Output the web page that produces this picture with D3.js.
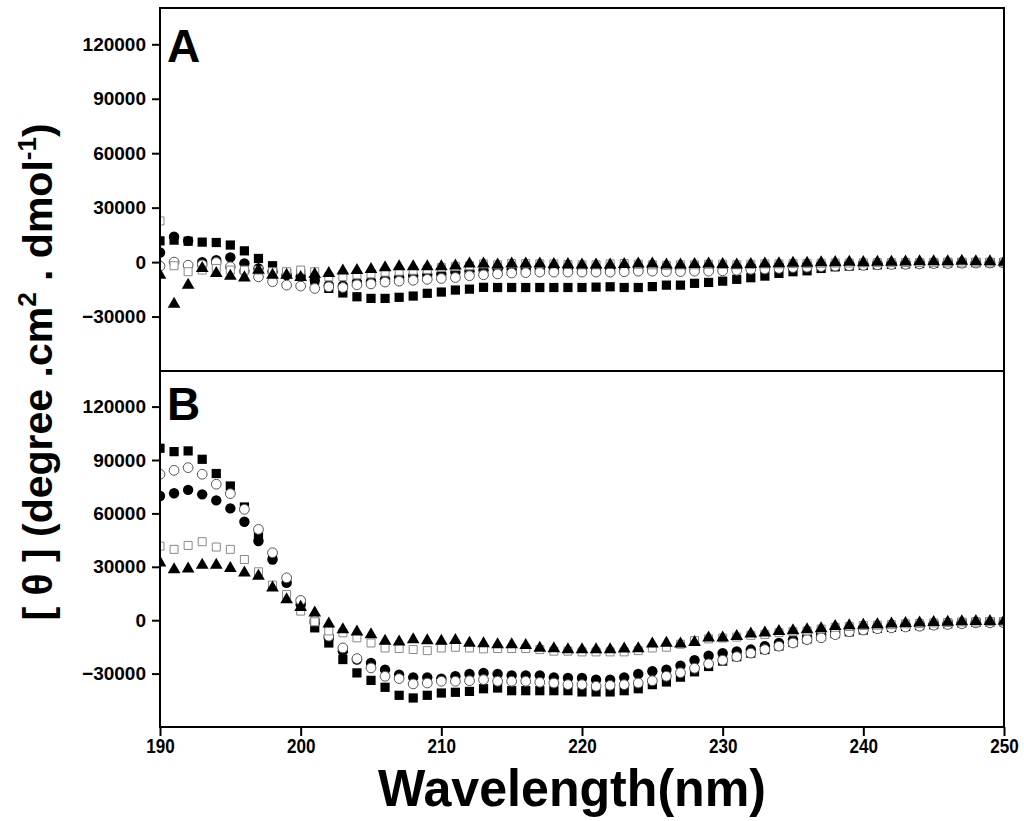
<!DOCTYPE html>
<html>
<head>
<meta charset="utf-8">
<script src="https://cdn.jsdelivr.net/npm/d3@7/dist/d3.min.js"></script>
<style>
	body { margin: 0; background: #fff; }
	text { font-family: "Liberation Sans", Arial, sans-serif; font-weight: bold; fill: #000; }
</style>
</head>
<body>
<svg id="chart" width="1024" height="821"></svg>
<script>
// wavelength 190..250 nm, one point per nm
var wavelengths = d3.range(190, 251);
var yTicks = [-30000, 0, 30000, 60000, 90000, 120000];
var xTicks = [190, 200, 210, 220, 230, 240, 250];

// panel A
var aSquareFilled = [11700, 12100, 11500, 11000, 10800, 9400, 6200, 2000, -2000, -6200, -6600, -9900, -14500, -17000,
	-19100, -20000, -20000, -19400, -18700, -17200, -16500, -15400, -14900, -13900, -14000, -14000, -14000, -14000, -14000, -14000, -14000, -13800, -13600, -14000, -14000, -13500,
	-12700, -12700, -11700, -11200, -10500, -9500, -8600, -7700, -6200, -5300, -4800, -3500, -2600, -2200, -1800, -1500, -1200, -1000, -800, -600, -500, -400, -300, -300, -300];
var aCircleFilled = [5300, 14000, 11700, 0, 1100, 2600, -700, -3500, -5300, -7200, -8100, -9900, -12700, -13000,
	-11000, -10500, -9500, -8500, -7500, -7000, -6500, -5500, -5000, -4500, -4000, -4000, -3800, -3500, -3500, -3500, -3500, -3500, -3500, -3300, -3200, -3200,
	-3500, -3500, -3300, -3000, -3000, -2800, -2500, -2300, -2000, -1800, -1500, -1300, -1200, -1000, -900, -800, -700, -600, -500, -400, -300, -300, -200, -200, -200];
var aCircleOpen = [-2200, 0, -1700, -1500, -200, -2600, -5000, -8100, -10800, -12700, -13200, -14500, -13600, -14000,
	-12500, -12000, -11000, -10500, -10000, -9500, -9000, -8500, -7500, -7000, -6500, -6000, -5800, -5500, -5500, -5500, -5500, -5500, -5500, -5300, -5000, -5000,
	-5200, -5200, -5000, -5000, -4800, -4500, -4000, -3800, -3500, -3000, -2800, -2500, -2200, -2000, -1800, -1500, -1300, -1200, -1000, -800, -800, -600, -500, -500, -500];
var aSquareOpen = [22700, -2000, -5300, -4400, -3500, -4400, -4400, -4400, -5300, -5300, -4400, -5300, -8100, -8000,
	-7000, -6500, -5500, -5000, -4500, -4000, -3000, -2500, -2000, -1000, -1500, -800, -800, -1000, -1000, -1300, -1500, -1500, -1000, -800, -1200, -1500,
	-1800, -1500, -1500, -1200, -1200, -1500, -1200, -1000, -1000, -800, -800, -600, -500, -500, -400, -300, -300, -200, -200, -100, 0, 0, 0, 0, 0];
var aTriangle = [-7200, -23100, -12700, -3500, -6200, -7700, -8600, -4400, -7200, -7200, -8400, -6700, -6200, -4800,
	-4500, -4000, -3000, -2500, -2500, -2500, -2500, -2000, -1000, -1000, -1500, -1000, -1000, -1000, -1200, -1300, -1500, -1500, -1500, -1200, -1000, -1000,
	-1500, -1500, -1200, -1000, -1200, -1500, -1200, -1000, -800, -500, -500, -300, -200, 0, -200, 0, 0, 200, 300, 300, 300, 500, 300, 300, 0];

// panel B
var bSquareFilled = [96600, 94700, 95100, 90400, 82400, 75400, 63600, 47000, 36000, 22000, 9800, -4300, -12800,
	-22100, -29600, -33800, -37700, -42200, -43700, -42200, -40900, -40500, -40000, -38500, -38100, -39600, -39600, -39600, -39600, -39600, -40300, -40300, -40300, -39600, -38500, -36200, -34700,
	-32000, -29000, -26000, -23000, -20500, -18500, -16500, -14500, -12500, -10500, -9000, -7500, -6500, -5500, -4500, -4000, -3500, -3000, -2500, -2000, -1500, -1200, -1000, -1000];
var bCircleFilled = [69800, 71300, 73200, 70700, 67300, 62800, 55300, 44500, 34100, 21000, 8800, -1500, -10000,
	-17400, -22100, -24000, -27800, -30600, -32100, -32100, -32800, -31500, -30200, -29600, -30200, -31000, -31000, -31000, -32100, -32500, -32500, -33400, -33400, -32100, -30200, -28700, -27800,
	-25500, -22500, -20000, -18500, -17500, -16500, -14600, -12800, -11000, -9500, -8000, -6500, -5500, -4500, -4000, -3500, -3000, -2500, -2000, -1500, -1200, -1000, -1000, -800];
var bCircleOpen = [82000, 84200, 85700, 82000, 76400, 71100, 62300, 51000, 37900, 23800, 11100, 0, -9000,
	-15600, -21600, -26800, -31500, -32800, -35800, -35300, -34300, -34300, -34000, -33400, -34300, -34300, -34300, -34900, -35300, -36200, -36200, -37100, -36600, -36200, -35300, -34000, -31500,
	-29500, -27000, -24500, -22500, -20500, -18500, -16500, -14600, -12800, -10900, -9900, -8100, -6500, -5500, -4800, -4300, -3800, -3400, -2800, -2400, -2000, -1500, -1500, -1500];
var bSquareOpen = [41600, 39800, 42000, 44100, 41100, 39800, 34100, 27200, 19700, 14400, 5100, -900, -6000,
	-7100, -9900, -12800, -15600, -15900, -16500, -17100, -15600, -15200, -15600, -16100, -15900, -15900, -15900, -16500, -17400, -17400, -17800, -17800, -17800, -17800, -17100, -15600, -15200,
	-13500, -11500, -10500, -10000, -9500, -8500, -8000, -7000, -6500, -6000, -5000, -4000, -3500, -3000, -2800, -2500, -2000, -1800, -1500, -1300, -1000, -1000, -800, -800];
var bTriangle = [32300, 28500, 28900, 31000, 31000, 29100, 26600, 24800, 18200, 11600, 7300, 4100, -2000,
	-5300, -6600, -8100, -11800, -12200, -10900, -11400, -11800, -11300, -12800, -13100, -13700, -13700, -14100, -15600, -15900, -16500, -16500, -16500, -16500, -16100, -15900, -13300, -12800,
	-13300, -12400, -9900, -9900, -9000, -7700, -7100, -6200, -5800, -5300, -4700, -3400, -3000, -2800, -2500, -2000, -1800, -1500, -1200, -1000, -800, -700, -600, -500];

var svg = d3.select("#chart");
var left = 160, right = 1004;

var x = d3.scaleLinear().domain([190, 250]).range([left, right]);

// marker styles, drawn in this order
var styles = [
	{ key: "squareFilled", type: d3.symbolSquare, size: 85, fill: "#000", stroke: "none" },
	{ key: "circleFilled", type: d3.symbolCircle, size: 85, fill: "#000", stroke: "none" },
	{ key: "circleOpen", type: d3.symbolCircle, size: 75, fill: "#fff", stroke: "#555" },
	{ key: "squareOpen", type: d3.symbolSquare, size: 64, fill: "#fff", stroke: "#888" },
	{ key: "triangle", type: d3.symbolTriangle, size: 70, fill: "#000", stroke: "none" }
];

var panels = [
	{ id: "A", top: 8, bottom: 371, series: { squareFilled: aSquareFilled, circleFilled: aCircleFilled, circleOpen: aCircleOpen, squareOpen: aSquareOpen, triangle: aTriangle } },
	{ id: "B", top: 371, bottom: 727, series: { squareFilled: bSquareFilled, circleFilled: bCircleFilled, circleOpen: bCircleOpen, squareOpen: bSquareOpen, triangle: bTriangle } }
];

panels.forEach(function (p, pi) {
	var y = d3.scaleLinear().domain([-60000, 140000]).range([p.bottom, p.top]);

	svg.append("clipPath")
		.attr("id", "clip" + p.id)
		.append("rect")
		.attr("x", left)
		.attr("y", p.top)
		.attr("width", right - left)
		.attr("height", p.bottom - p.top);

	var g = svg.append("g").attr("clip-path", "url(#clip" + p.id + ")");

	styles.forEach(function (s) {
		var vals = p.series[s.key];
		g.selectAll("path." + s.key)
			.data(wavelengths)
			.enter()
			.append("path")
			.attr("class", s.key)
			.attr("transform", function (d, i) { return "translate(" + x(d) + "," + y(vals[i]) + ")"; })
			.attr("d", d3.symbol().type(s.type).size(s.size))
			.attr("fill", s.fill)
			.attr("stroke", s.stroke)
			.attr("stroke-width", 1);
	});

	// y axis
	var yAxis = svg.append("g")
		.attr("transform", "translate(" + left + ",0)")
		.call(d3.axisLeft(y).tickValues(yTicks).tickSize(8).tickPadding(6).tickFormat(d3.format("d")));
	yAxis.select(".domain").remove();
	yAxis.selectAll(".tick line").attr("stroke-width", 2);
	yAxis.selectAll(".tick text").attr("font-size", 19).attr("font-family", null);

	// frame
	svg.append("rect")
		.attr("x", left)
		.attr("y", p.top)
		.attr("width", right - left)
		.attr("height", p.bottom - p.top)
		.attr("fill", "none")
		.attr("stroke", "#000")
		.attr("stroke-width", 2);

	svg.append("text")
		.attr("x", 167)
		.attr("y", p.top + (pi == 0 ? 54 : 49))
		.attr("font-size", 46)
		.text(p.id);

	if (pi == 1) {
		var xAxis = svg.append("g")
			.attr("transform", "translate(0," + p.bottom + ")")
			.call(d3.axisBottom(x).tickValues(xTicks).tickSize(9).tickPadding(2).tickFormat(d3.format("d")));
		xAxis.select(".domain").remove();
		xAxis.selectAll(".tick line").attr("stroke-width", 2);
		// condensed look of the original tick labels
		xAxis.selectAll(".tick text")
			.attr("font-size", 19)
			.attr("font-family", null)
			.attr("transform", "scale(0.9,1.05)");
	}
});

// axis titles
svg.append("text")
	.attr("x", 572)
	.attr("y", 806)
	.attr("text-anchor", "middle")
	.attr("font-size", 52)
	.attr("textLength", 388)
	.attr("lengthAdjust", "spacingAndGlyphs")
	.text("Wavelength(nm)");

var yt = svg.append("text")
	.attr("transform", "translate(52,372) rotate(-90)")
	.attr("text-anchor", "middle")
	.attr("font-size", 41);
yt.append("tspan").text("[ \u03b8 ] (degree .cm");
yt.append("tspan").attr("dy", -16).attr("font-size", 26).text("2");
yt.append("tspan").attr("dy", 16).text(" . dmol");
yt.append("tspan").attr("dy", -16).attr("font-size", 26).text("-1");
yt.append("tspan").attr("dy", 16).text(")");
</script>
</body>
</html>
